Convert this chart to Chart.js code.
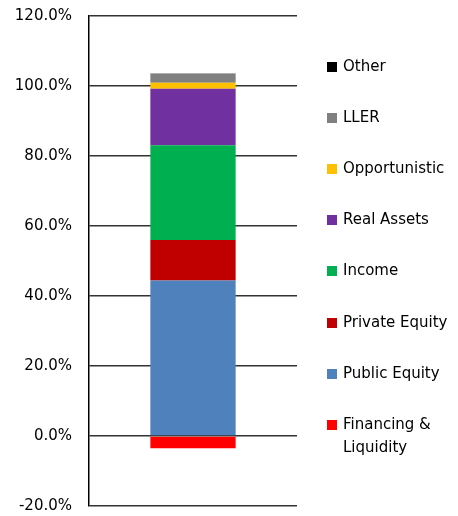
<!DOCTYPE html>
<html><head><meta charset="utf-8">
<script src="https://cdn.jsdelivr.net/npm/chart.js@4.4.1/dist/chart.umd.min.js"></script>
<style>
html,body{margin:0;padding:0;background:#fff;}
#wrap{position:relative;width:458px;height:516px;overflow:hidden;}
#c{position:absolute;left:0;top:0;}
.li{position:absolute;left:327px;font-family:"DejaVu Sans";font-size:15px;color:#000;line-height:23px;}
.sw{position:absolute;left:0;top:7px;width:10px;height:10px;}
.tx{position:absolute;left:16px;top:0;white-space:nowrap;}
</style></head>
<body>
<div id="wrap"><canvas id="c" width="458" height="516"></canvas><div id="legend"></div></div>
<script>
const categories = ['Allocation'];
const seriesNames = ['Financing &\nLiquidity','Public Equity','Private Equity','Income','Real Assets','Opportunistic','LLER','Other'];
const seriesValues = [-3.5, 44.4, 11.6, 27.1, 16.1, 1.7, 2.6, 0.1];
const seriesColors = ['#FF0000','#4F81BD','#C00000','#00B050','#7030A0','#FFC000','#808080','#000000'];
const yMin = -20, yMax = 120, yStep = 20;

const datasets = seriesNames.map((n, i) => ({
  label: n,
  data: [seriesValues[i]],
  backgroundColor: seriesColors[i],
  borderWidth: 0,
  categoryPercentage: 0.41,
  barPercentage: 1
}));

const chart = new Chart(document.getElementById('c'), {
  type: 'bar',
  data: { labels: categories, datasets },
  options: {
    responsive: false,
    animation: false,
    layout: { padding: { top: 16, bottom: 10, left: 0, right: 161 } },
    plugins: { legend: { display: false }, tooltip: { enabled: false } },
    scales: {
      x: { stacked: true, display: false },
      y: {
        stacked: true, min: yMin, max: yMax,
        afterFit: s => { s.width = 89; s.paddingTop = 0; s.paddingBottom = 0; },
        ticks: { stepSize: yStep, padding: 17, color: '#000',
          font: { family: 'DejaVu Sans', size: 15 },
          callback: v => v.toFixed(1) + '%' },
        grid: { color: '#333', lineWidth: 1.5, drawTicks: false },
        border: { display: true, color: '#000', width: 1.5 }
      }
    }
  }
});

// HTML legend, top-to-bottom in reverse stacking order
const leg = document.getElementById('legend');
const order = seriesNames.map((_, i) => i).reverse();
order.forEach((idx, k) => {
  const d = document.createElement('div');
  d.className = 'li';
  d.style.top = (66 - 11.5 + k * 51.2) + 'px';
  const sw = document.createElement('div');
  sw.className = 'sw';
  sw.style.background = seriesColors[idx];
  const tx = document.createElement('div');
  tx.className = 'tx';
  tx.innerHTML = seriesNames[idx].split('\n').map(s => s.replace(/&/g,'&amp;')).join('<br>');
  d.appendChild(sw); d.appendChild(tx);
  leg.appendChild(d);
});
</script>
</body></html>
